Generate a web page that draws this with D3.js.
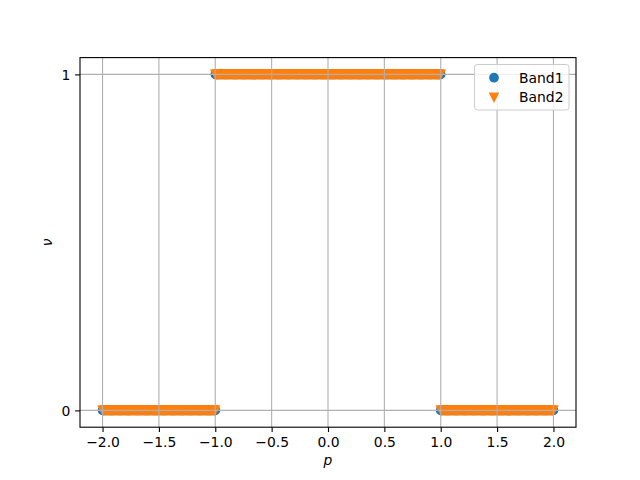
<!DOCTYPE html>
<html>
<head>
<meta charset="utf-8">
<script src="https://cdn.jsdelivr.net/npm/d3@7"></script>
<style>
  body { margin: 0; background: #fff; }
  svg { display: block; }
  text { font-family: "DejaVu Sans", sans-serif; }
</style>
</head>
<body>
<div id="chart"></div>
<script>
// sampled momentum values p (three pieces, points at -1 and 1 appear in both pieces)
var pValues = [
  -2,-1.99,-1.98,-1.97,-1.96,-1.95,-1.94,-1.93,-1.92,-1.91,
  -1.9,-1.89,-1.88,-1.87,-1.86,-1.85,-1.84,-1.83,-1.82,-1.81,
  -1.8,-1.79,-1.78,-1.77,-1.76,-1.75,-1.74,-1.73,-1.72,-1.71,
  -1.7,-1.69,-1.68,-1.67,-1.66,-1.65,-1.64,-1.63,-1.62,-1.61,
  -1.6,-1.59,-1.58,-1.57,-1.56,-1.55,-1.54,-1.53,-1.52,-1.51,
  -1.5,-1.49,-1.48,-1.47,-1.46,-1.45,-1.44,-1.43,-1.42,-1.41,
  -1.4,-1.39,-1.38,-1.37,-1.36,-1.35,-1.34,-1.33,-1.32,-1.31,
  -1.3,-1.29,-1.28,-1.27,-1.26,-1.25,-1.24,-1.23,-1.22,-1.21,
  -1.2,-1.19,-1.18,-1.17,-1.16,-1.15,-1.14,-1.13,-1.12,-1.11,
  -1.1,-1.09,-1.08,-1.07,-1.06,-1.05,-1.04,-1.03,-1.02,-1.01,
  -1,
  -1,-0.99,-0.98,-0.97,-0.96,-0.95,-0.94,-0.93,-0.92,-0.91,
  -0.9,-0.89,-0.88,-0.87,-0.86,-0.85,-0.84,-0.83,-0.82,-0.81,
  -0.8,-0.79,-0.78,-0.77,-0.76,-0.75,-0.74,-0.73,-0.72,-0.71,
  -0.7,-0.69,-0.68,-0.67,-0.66,-0.65,-0.64,-0.63,-0.62,-0.61,
  -0.6,-0.59,-0.58,-0.57,-0.56,-0.55,-0.54,-0.53,-0.52,-0.51,
  -0.5,-0.49,-0.48,-0.47,-0.46,-0.45,-0.44,-0.43,-0.42,-0.41,
  -0.4,-0.39,-0.38,-0.37,-0.36,-0.35,-0.34,-0.33,-0.32,-0.31,
  -0.3,-0.29,-0.28,-0.27,-0.26,-0.25,-0.24,-0.23,-0.22,-0.21,
  -0.2,-0.19,-0.18,-0.17,-0.16,-0.15,-0.14,-0.13,-0.12,-0.11,
  -0.1,-0.09,-0.08,-0.07,-0.06,-0.05,-0.04,-0.03,-0.02,-0.01,
  0,0.01,0.02,0.03,0.04,0.05,0.06,0.07,0.08,0.09,
  0.1,0.11,0.12,0.13,0.14,0.15,0.16,0.17,0.18,0.19,
  0.2,0.21,0.22,0.23,0.24,0.25,0.26,0.27,0.28,0.29,
  0.3,0.31,0.32,0.33,0.34,0.35,0.36,0.37,0.38,0.39,
  0.4,0.41,0.42,0.43,0.44,0.45,0.46,0.47,0.48,0.49,
  0.5,0.51,0.52,0.53,0.54,0.55,0.56,0.57,0.58,0.59,
  0.6,0.61,0.62,0.63,0.64,0.65,0.66,0.67,0.68,0.69,
  0.7,0.71,0.72,0.73,0.74,0.75,0.76,0.77,0.78,0.79,
  0.8,0.81,0.82,0.83,0.84,0.85,0.86,0.87,0.88,0.89,
  0.9,0.91,0.92,0.93,0.94,0.95,0.96,0.97,0.98,0.99,
  1,
  1,1.01,1.02,1.03,1.04,1.05,1.06,1.07,1.08,1.09,
  1.1,1.11,1.12,1.13,1.14,1.15,1.16,1.17,1.18,1.19,
  1.2,1.21,1.22,1.23,1.24,1.25,1.26,1.27,1.28,1.29,
  1.3,1.31,1.32,1.33,1.34,1.35,1.36,1.37,1.38,1.39,
  1.4,1.41,1.42,1.43,1.44,1.45,1.46,1.47,1.48,1.49,
  1.5,1.51,1.52,1.53,1.54,1.55,1.56,1.57,1.58,1.59,
  1.6,1.61,1.62,1.63,1.64,1.65,1.66,1.67,1.68,1.69,
  1.7,1.71,1.72,1.73,1.74,1.75,1.76,1.77,1.78,1.79,
  1.8,1.81,1.82,1.83,1.84,1.85,1.86,1.87,1.88,1.89,
  1.9,1.91,1.92,1.93,1.94,1.95,1.96,1.97,1.98,1.99,
  2
];

// winding number nu of each band at those p
var band1Nu = [
  0,0,0,0,0,0,0,0,0,0, 0,0,0,0,0,0,0,0,0,0, 0,0,0,0,0,0,0,0,0,0, 0,0,0,0,0,0,0,0,0,0, 0,0,0,0,0,0,0,0,0,0,
  0,0,0,0,0,0,0,0,0,0, 0,0,0,0,0,0,0,0,0,0, 0,0,0,0,0,0,0,0,0,0, 0,0,0,0,0,0,0,0,0,0, 0,0,0,0,0,0,0,0,0,0,
  0,
  1,1,1,1,1,1,1,1,1,1, 1,1,1,1,1,1,1,1,1,1, 1,1,1,1,1,1,1,1,1,1, 1,1,1,1,1,1,1,1,1,1, 1,1,1,1,1,1,1,1,1,1,
  1,1,1,1,1,1,1,1,1,1, 1,1,1,1,1,1,1,1,1,1, 1,1,1,1,1,1,1,1,1,1, 1,1,1,1,1,1,1,1,1,1, 1,1,1,1,1,1,1,1,1,1,
  1,1,1,1,1,1,1,1,1,1, 1,1,1,1,1,1,1,1,1,1, 1,1,1,1,1,1,1,1,1,1, 1,1,1,1,1,1,1,1,1,1, 1,1,1,1,1,1,1,1,1,1,
  1,1,1,1,1,1,1,1,1,1, 1,1,1,1,1,1,1,1,1,1, 1,1,1,1,1,1,1,1,1,1, 1,1,1,1,1,1,1,1,1,1, 1,1,1,1,1,1,1,1,1,1,
  1,
  0,0,0,0,0,0,0,0,0,0, 0,0,0,0,0,0,0,0,0,0, 0,0,0,0,0,0,0,0,0,0, 0,0,0,0,0,0,0,0,0,0, 0,0,0,0,0,0,0,0,0,0,
  0,0,0,0,0,0,0,0,0,0, 0,0,0,0,0,0,0,0,0,0, 0,0,0,0,0,0,0,0,0,0, 0,0,0,0,0,0,0,0,0,0, 0,0,0,0,0,0,0,0,0,0,
  0
];

var band2Nu = [
  0,0,0,0,0,0,0,0,0,0, 0,0,0,0,0,0,0,0,0,0, 0,0,0,0,0,0,0,0,0,0, 0,0,0,0,0,0,0,0,0,0, 0,0,0,0,0,0,0,0,0,0,
  0,0,0,0,0,0,0,0,0,0, 0,0,0,0,0,0,0,0,0,0, 0,0,0,0,0,0,0,0,0,0, 0,0,0,0,0,0,0,0,0,0, 0,0,0,0,0,0,0,0,0,0,
  0,
  1,1,1,1,1,1,1,1,1,1, 1,1,1,1,1,1,1,1,1,1, 1,1,1,1,1,1,1,1,1,1, 1,1,1,1,1,1,1,1,1,1, 1,1,1,1,1,1,1,1,1,1,
  1,1,1,1,1,1,1,1,1,1, 1,1,1,1,1,1,1,1,1,1, 1,1,1,1,1,1,1,1,1,1, 1,1,1,1,1,1,1,1,1,1, 1,1,1,1,1,1,1,1,1,1,
  1,1,1,1,1,1,1,1,1,1, 1,1,1,1,1,1,1,1,1,1, 1,1,1,1,1,1,1,1,1,1, 1,1,1,1,1,1,1,1,1,1, 1,1,1,1,1,1,1,1,1,1,
  1,1,1,1,1,1,1,1,1,1, 1,1,1,1,1,1,1,1,1,1, 1,1,1,1,1,1,1,1,1,1, 1,1,1,1,1,1,1,1,1,1, 1,1,1,1,1,1,1,1,1,1,
  1,
  0,0,0,0,0,0,0,0,0,0, 0,0,0,0,0,0,0,0,0,0, 0,0,0,0,0,0,0,0,0,0, 0,0,0,0,0,0,0,0,0,0, 0,0,0,0,0,0,0,0,0,0,
  0,0,0,0,0,0,0,0,0,0, 0,0,0,0,0,0,0,0,0,0, 0,0,0,0,0,0,0,0,0,0, 0,0,0,0,0,0,0,0,0,0, 0,0,0,0,0,0,0,0,0,0,
  0
];

var xTicks = [-2, -1.5, -1, -0.5, 0, 0.5, 1, 1.5, 2];
var yTicks = [0, 1];
var seriesNames = ["Band1", "Band2"];
var seriesColors = ["#1f77b4", "#ff7f0e"];

var w = 640, h = 480;
var plotLeft = 80, plotRight = 576, plotTop = 57.6, plotBottom = 427.2;
var fontPx = 13.9;
var tickLen = 4.86;
var ms = 4.17;   // half marker size, px

var x = d3.scaleLinear().domain([-2.2, 2.2]).range([plotLeft, plotRight]);
var y = d3.scaleLinear().domain([-0.05, 1.05]).range([plotBottom, plotTop]);

var fmtTick = function (d) { return d3.format(".1f")(d).replace("-", "\u2212"); };

var svg = d3.select("#chart").append("svg")
    .attr("width", w)
    .attr("height", h);

// triangle pointing down, centred on 0,0
var triDown = "M" + (-ms) + "," + (-ms) + "L" + ms + "," + (-ms) + "L0," + ms + "Z";

var pts1 = pValues.map(function (p, i) { return { p: p, nu: band1Nu[i] }; });
var pts2 = pValues.map(function (p, i) { return { p: p, nu: band2Nu[i] }; });

// Band1 circles
svg.append("g").selectAll("circle")
    .data(pts1)
    .enter().append("circle")
    .attr("cx", d => x(d.p))
    .attr("cy", d => y(d.nu))
    .attr("r", ms)
    .attr("fill", seriesColors[0])
    .attr("stroke", seriesColors[0])
    .attr("stroke-width", 1.39);

// Band2 triangles on top
svg.append("g").selectAll("path")
    .data(pts2)
    .enter().append("path")
    .attr("d", triDown)
    .attr("transform", d => "translate(" + x(d.p) + "," + y(d.nu) + ")")
    .attr("fill", seriesColors[1])
    .attr("stroke", seriesColors[1])
    .attr("stroke-width", 1.39);

// grid sits above the markers, like matplotlib
var grid = svg.append("g").attr("stroke", "#b0b0b0").attr("stroke-width", 1.1);
grid.selectAll(".gx").data(xTicks).enter().append("line")
    .attr("x1", d => x(d)).attr("x2", d => x(d))
    .attr("y1", plotTop).attr("y2", plotBottom);
grid.selectAll(".gy").data(yTicks).enter().append("line")
    .attr("x1", plotLeft).attr("x2", plotRight)
    .attr("y1", d => y(d)).attr("y2", d => y(d));

// axes
var xAxis = d3.axisBottom(x).tickValues(xTicks).tickFormat(fmtTick)
    .tickSize(tickLen).tickPadding(4.86);
var yAxis = d3.axisLeft(y).tickValues(yTicks).tickFormat(d3.format("d"))
    .tickSize(tickLen).tickPadding(4.86);

var gx = svg.append("g").attr("transform", "translate(0," + plotBottom + ")").call(xAxis);
var gy = svg.append("g").attr("transform", "translate(" + plotLeft + ",0)").call(yAxis);
[gx, gy].forEach(function (g) {
    g.select(".domain").remove();
    g.selectAll(".tick line").attr("stroke", "#000").attr("stroke-width", 1.1);
    g.selectAll(".tick text")
        .attr("fill", "#000")
        .style("font-family", "DejaVu Sans")
        .style("font-size", fontPx + "px");
});
gy.selectAll(".tick text").attr("dy", "0.35em");

// frame
svg.append("rect")
    .attr("x", plotLeft).attr("y", plotTop)
    .attr("width", plotRight - plotLeft).attr("height", plotBottom - plotTop)
    .attr("fill", "none")
    .attr("stroke", "#000")
    .attr("stroke-width", 1.1);

// axis labels
svg.append("text")
    .attr("x", (plotLeft + plotRight) / 2).attr("y", 464.5)
    .attr("text-anchor", "middle")
    .style("font-size", fontPx + "px")
    .style("font-style", "italic")
    .text("p");

svg.append("text")
    .attr("transform", "translate(51.5," + ((plotTop + plotBottom) / 2) + ") rotate(-90)")
    .attr("text-anchor", "middle")
    .style("font-size", fontPx + "px")
    .style("font-style", "italic")
    .text("\u03bd");

// legend
var lg = svg.append("g");
lg.append("rect")
    .attr("x", 474.5).attr("y", 64.5)
    .attr("width", 94.5).attr("height", 45.5)
    .attr("rx", 2.8).attr("ry", 2.8)
    .attr("fill", "#fff").attr("fill-opacity", 0.8)
    .attr("stroke", "#cccccc").attr("stroke-width", 1);

var rows = lg.selectAll(".row")
    .data(seriesNames)
    .enter().append("g")
    .attr("transform", (d, i) => "translate(494," + (77.7 + i * 19.6) + ")");

rows.each(function (d, i) {
    var r = d3.select(this);
    if (i === 0) {
        r.append("circle").attr("r", ms)
            .attr("fill", seriesColors[0]).attr("stroke", seriesColors[0]).attr("stroke-width", 1.39);
    } else {
        r.append("path").attr("d", triDown)
            .attr("fill", seriesColors[1]).attr("stroke", seriesColors[1]).attr("stroke-width", 1.39);
    }
    r.append("text")
        .attr("x", 25).attr("dy", "0.35em")
        .style("font-size", fontPx + "px")
        .text(d);
});
</script>
</body>
</html>
